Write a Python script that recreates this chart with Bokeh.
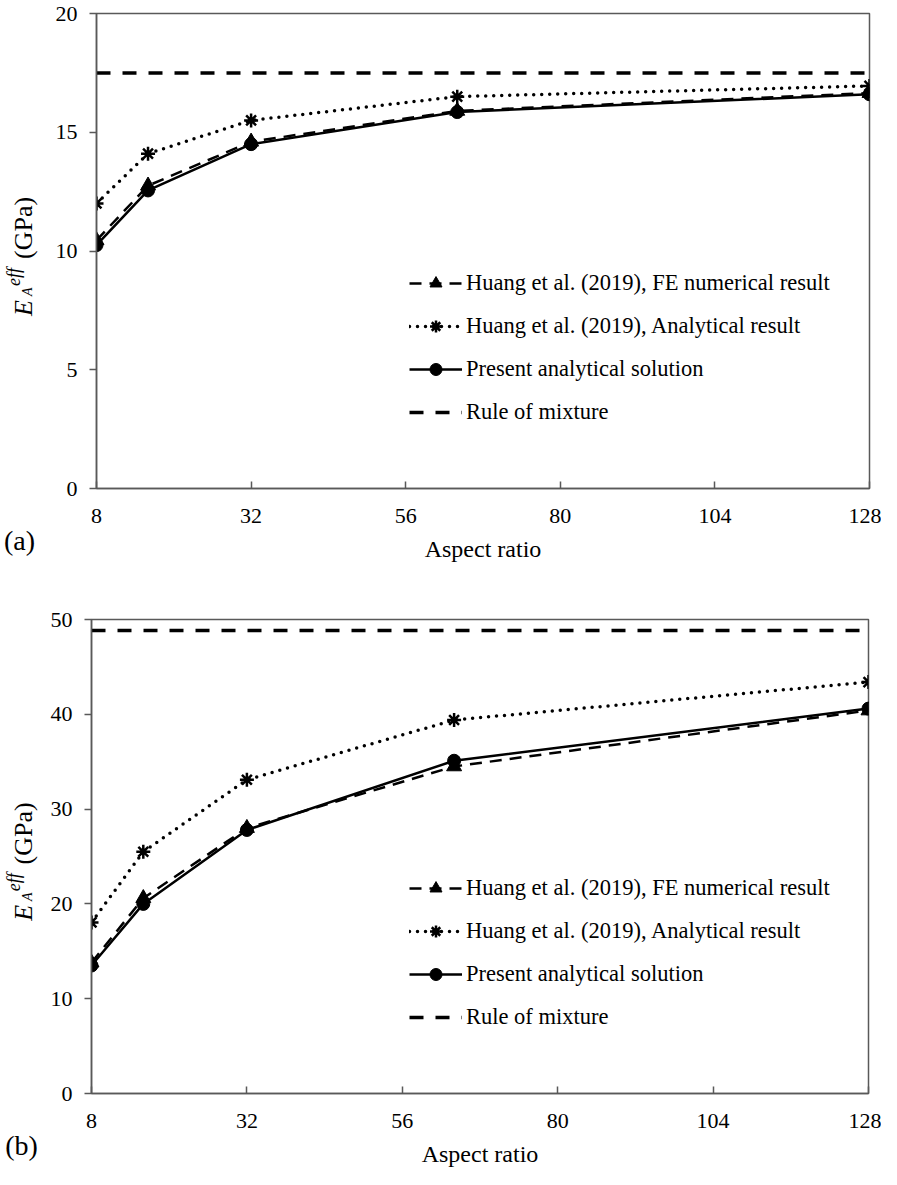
import math
from bokeh.plotting import figure
from bokeh.models import Range1d, FixedTicker, Legend, LegendItem, Label
from bokeh.layouts import column, row
from bokeh.embed import file_html
from bokeh.resources import INLINE

# ---------------- data ----------------
x_ratio = [8, 16, 32, 64, 128]
x_ticks = [8, 32, 56, 80, 104, 128]

a_fe = [10.45, 12.75, 14.6, 15.9, 16.65]
a_analytical = [12.0, 14.1, 15.5, 16.5, 16.95]
a_present = [10.25, 12.55, 14.5, 15.85, 16.6]
a_rule = 17.5
a_yticks = [0, 5, 10, 15, 20]

b_fe = [13.8, 20.6, 28.0, 34.5, 40.4]
b_analytical = [18.05, 25.5, 33.1, 39.4, 43.4]
b_present = [13.5, 20.0, 27.8, 35.1, 40.6]
b_rule = 48.85
b_yticks = [0, 10, 20, 30, 40, 50]

legend_labels = ["Huang et al. (2019), FE numerical result",
                 "Huang et al. (2019), Analytical result",
                 "Present analytical solution",
                 "Rule of mixture"]
x_title = "Aspect ratio"
y_title_parts = ["E", "A", "eff", "(GPa)"]

FONT = "Liberation Serif"
AX = "#595959"
TOTAL_W = 881


def side(width, height, bt, bb, tag):
    fh = height - bt - bb
    s = figure(width=width, height=height, x_range=Range1d(0, width),
               y_range=Range1d(0, fh), output_backend="svg",
               toolbar_location=None, min_border_left=0, min_border_right=0,
               min_border_top=bt, min_border_bottom=bb, y_axis_location=None)
    s.outline_line_color = None
    s.background_fill_color = "white"
    s.border_fill_color = "white"
    s.grid.visible = False
    ax = s.xaxis[0]
    ax.ticker = FixedTicker(ticks=[])
    ax.axis_line_color = None
    ax.major_tick_line_color = None
    ax.minor_tick_line_color = None
    ax.major_label_text_color = None
    ax.axis_label = tag
    ax.axis_label_text_font = FONT
    ax.axis_label_text_font_size = "28px"
    ax.axis_label_text_font_style = "normal"
    ax.axis_label_text_color = "black"
    ax.axis_label_standoff = 36
    # rotated composite title: E_A^eff (GPa)  (offsets below frame centre, px)
    spec = [("italic", "26px", 23, 65),
            ("italic", "14px", 27, 45),
            ("italic", "18px", 13, 35),
            ("normal", "26px", 23, 8)]
    for txt, (style, size, bx, off) in zip(y_title_parts, spec):
        s.add_layout(Label(x=bx, y=fh / 2 - off, text=txt,
                           angle=math.pi / 2, text_font=FONT, text_font_style=style,
                           text_font_size=size, text_color="black",
                           text_align="left", text_baseline="alphabetic"))
    return s


def panel(fe, ana, pres, rule, yticks, width, height, bl, br, bt, bb, legx):
    xmin, xmax = x_ticks[0], x_ticks[-1]
    ymin, ymax = yticks[0], yticks[-1]
    p = figure(width=width, height=height, x_range=Range1d(xmin, xmax),
               y_range=Range1d(ymin, ymax), output_backend="svg",
               toolbar_location=None, min_border_left=bl, min_border_right=br,
               min_border_top=bt, min_border_bottom=bb)
    p.background_fill_color = "white"
    p.border_fill_color = "white"
    p.outline_line_color = AX
    p.outline_line_width = 1.5
    p.xgrid.visible = False
    p.ygrid.visible = False

    p.xaxis.ticker = FixedTicker(ticks=x_ticks)
    p.yaxis.ticker = FixedTicker(ticks=yticks)
    for ax in (p.xaxis, p.yaxis):
        ax.axis_line_color = AX
        ax.axis_line_width = 1.5
        ax.major_tick_line_color = AX
        ax.major_tick_line_width = 1.5
        ax.minor_tick_line_color = None
        ax.major_label_text_font = FONT
        ax.major_label_text_font_size = "22px"
        ax.major_label_text_color = "black"
    p.xaxis.major_tick_in = 7
    p.xaxis.major_tick_out = 0
    p.xaxis.major_label_standoff = 20
    p.yaxis.major_tick_in = 0
    p.yaxis.major_tick_out = 7
    p.yaxis.major_label_standoff = 12

    p.xaxis.axis_label = x_title
    p.xaxis.axis_label_text_font = FONT
    p.xaxis.axis_label_text_font_size = "24px"
    p.xaxis.axis_label_text_font_style = "normal"
    p.xaxis.axis_label_text_color = "black"
    p.xaxis.axis_label_standoff = 10

    fe_l = p.line(x_ratio, fe, line_color="black", line_width=2.5, line_dash="12 8")
    fe_m = p.scatter(x_ratio, fe, marker="triangle", size=15, fill_color="black",
                     line_color="black")
    an_l = p.line(x_ratio, ana, line_color="black", line_width=3.5,
                  line_dash="0 8", line_cap="round")
    an_m = p.scatter(x_ratio, ana, marker="asterisk", size=14, line_color="black",
                     line_width=2.5)
    pr_l = p.line(x_ratio, pres, line_color="black", line_width=2.5)
    pr_m = p.scatter(x_ratio, pres, marker="circle", size=13, fill_color="black",
                     line_color="black")
    ru_l = p.line([xmin, xmax], [rule, rule], line_color="black",
                  line_width=3.5, line_dash="14 12")

    legend = Legend(items=[
        LegendItem(label=legend_labels[0], renderers=[fe_l, fe_m]),
        LegendItem(label=legend_labels[1], renderers=[an_l, an_m]),
        LegendItem(label=legend_labels[2], renderers=[pr_l, pr_m]),
        LegendItem(label=legend_labels[3], renderers=[ru_l]),
    ], location=(legx, 61))
    legend.label_text_font = FONT
    legend.label_text_font_size = "22.5px"
    legend.label_text_color = "black"
    legend.glyph_width = 53
    legend.glyph_height = 30
    legend.label_height = 30
    legend.label_standoff = 4
    legend.spacing = 13
    legend.padding = 0
    legend.margin = 0
    legend.border_line_color = None
    legend.background_fill_alpha = 0
    p.add_layout(legend)
    return p


H1, H2 = 605, 564
SW1, SW2 = 38, 42
p1 = panel(a_fe, a_analytical, a_present, a_rule, a_yticks, TOTAL_W - SW1, H1,
           96 - SW1, 12, 13, 117, 313)
p2 = panel(b_fe, b_analytical, b_present, b_rule, b_yticks, TOTAL_W - SW2, H2,
           91 - SW2, 13, 14, 71, 318)
s1 = side(SW1, H1, 13, 117, "(a)")
s2 = side(SW2, H2, 14, 71, "(b)")

layout = column(row(s1, p1), row(s2, p2))
open("out.html", "w").write(file_html(layout, INLINE))
